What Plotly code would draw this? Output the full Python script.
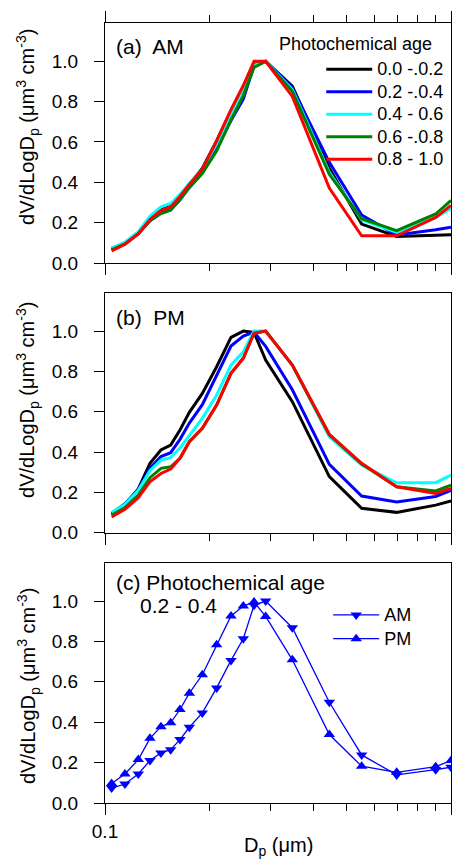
import plotly.graph_objects as go

# particle diameter bins (um)
dp = [0.1045, 0.1142, 0.1248, 0.1349, 0.1451, 0.1548, 0.1647, 0.1753, 0.1911, 0.2102,
      0.2313, 0.2510, 0.2696, 0.2913, 0.3479, 0.4450, 0.5518, 0.6966, 0.9031, 1.0]

age_labels = ["0.0 -.0.2", "0.2 -.0.4", "0.4 - 0.6", "0.6 -.0.8", "0.8 - 1.0"]
age_colors = ["#000000", "#0000ff", "#00ffff", "#008000", "#ff0000"]

# (a) AM, normalised dV/dlogDp
am_00_02 = [0.065, 0.097, 0.148, 0.22, 0.265, 0.28, 0.33, 0.39, 0.47, 0.605,
            0.755, 0.87, 0.985, 1.0, 0.877, 0.47, 0.193, 0.132, 0.14, 0.14]
am_02_04 = [0.074, 0.094, 0.144, 0.21, 0.248, 0.264, 0.314, 0.375, 0.446, 0.570,
            0.706, 0.813, 0.979, 1.0, 0.868, 0.499, 0.238, 0.139, 0.165, 0.177]
am_04_06 = [0.072, 0.103, 0.155, 0.232, 0.278, 0.295, 0.34, 0.395, 0.465, 0.59,
            0.74, 0.86, 0.98, 1.0, 0.86, 0.45, 0.215, 0.152, 0.226, 0.27]
am_06_08 = [0.065, 0.095, 0.145, 0.21, 0.245, 0.262, 0.315, 0.375, 0.445, 0.555,
            0.71, 0.83, 0.97, 1.0, 0.851, 0.44, 0.22, 0.16, 0.243, 0.31]
am_08_10 = [0.06, 0.093, 0.145, 0.215, 0.26, 0.278, 0.33, 0.39, 0.465, 0.605,
            0.76, 0.88, 1.0, 1.0, 0.826, 0.372, 0.135, 0.135, 0.226, 0.286]

# (b) PM
pm_00_02 = [0.09, 0.134, 0.217, 0.344, 0.41, 0.435, 0.509, 0.597, 0.691, 0.823,
            0.969, 1.0, 0.993, 0.856, 0.65, 0.278, 0.121, 0.101, 0.137, 0.157]
pm_02_04 = [0.097, 0.144, 0.215, 0.32, 0.378, 0.397, 0.463, 0.544, 0.635, 0.784,
            0.926, 0.975, 0.995, 0.924, 0.709, 0.339, 0.182, 0.152, 0.18, 0.21]
pm_04_06 = [0.10, 0.141, 0.21, 0.308, 0.36, 0.372, 0.42, 0.484, 0.567, 0.683,
            0.831, 0.897, 1.0, 1.0, 0.831, 0.476, 0.336, 0.248, 0.248, 0.286]
pm_06_08 = [0.088, 0.124, 0.187, 0.273, 0.319, 0.327, 0.369, 0.451, 0.518, 0.633,
            0.79, 0.865, 0.989, 1.0, 0.831, 0.485, 0.34, 0.228, 0.207, 0.236]
pm_08_10 = [0.078, 0.116, 0.174, 0.253, 0.294, 0.316, 0.369, 0.451, 0.518, 0.633,
            0.79, 0.865, 0.989, 1.0, 0.831, 0.488, 0.344, 0.228, 0.195, 0.22]

am_series = [am_00_02, am_02_04, am_04_06, am_06_08, am_08_10]
pm_series = [pm_00_02, pm_02_04, pm_04_06, pm_06_08, pm_08_10]

FONT = "Liberation Sans, Arial, sans-serif"


def big(txt):
    # legend row height follows legend font size, so enlarge the text only
    return '<span style="font-size:18px">' + txt + "</span>"


fig = go.Figure()

for lab, col, ys in zip(age_labels, age_colors, am_series):
    fig.add_trace(go.Scatter(x=dp, y=ys, mode="lines", name=big(lab),
                             line=dict(color=col, width=3),
                             xaxis="x", yaxis="y", legend="legend"))

for lab, col, ys in zip(age_labels, age_colors, pm_series):
    fig.add_trace(go.Scatter(x=dp, y=ys, mode="lines", name=lab, showlegend=False,
                             line=dict(color=col, width=3),
                             xaxis="x2", yaxis="y2"))

# (c) age 0.2 - 0.4, AM vs PM
fig.add_trace(go.Scatter(x=dp, y=am_02_04, mode="lines+markers", name=big("AM"),
                         line=dict(color="#0000ff", width=1.3),
                         marker=dict(symbol="triangle-down", size=10, color="#0000ff"),
                         xaxis="x3", yaxis="y3", legend="legend2"))
fig.add_trace(go.Scatter(x=dp, y=pm_02_04, mode="lines+markers", name=big("PM"),
                         line=dict(color="#0000ff", width=1.3),
                         marker=dict(symbol="triangle-up", size=10, color="#0000ff"),
                         xaxis="x3", yaxis="y3", legend="legend2"))

minor_vals = [0.2, 0.3, 0.4, 0.5, 0.6, 0.7, 0.8, 0.9]


def x_axis(anchor, labels, mirror):
    return dict(type="log", range=[-1, 0], anchor=anchor, domain=[0, 1],
                automargin=False,
                tickvals=[0.1, 1], ticktext=["0.1", "1"], ticks="outside",
                ticklen=11, tickwidth=1, tickcolor="black",
                showline=True, linecolor="black", linewidth=1, mirror=mirror,
                showgrid=False, zeroline=False, showticklabels=labels,
                ticklabelstandoff=0,
                tickfont=dict(family=FONT, size=19, color="black"),
                minor=dict(tickvals=minor_vals, ticks="outside", ticklen=7,
                           tickcolor="black", tickwidth=1, showgrid=False))


def y_axis(anchor, domain):
    return dict(range=[0, 1.19], anchor=anchor, domain=domain, automargin=False,
                tickvals=[0, 0.2, 0.4, 0.6, 0.8, 1.0], tickformat=".1f",
                ticks="outside", ticklen=10, tickwidth=1, tickcolor="black",
                showline=True, linecolor="black", linewidth=1, mirror=True,
                showgrid=False, zeroline=False, ticklabelstandoff=12,
                tickfont=dict(family=FONT, size=19, color="black"))


ytitle = "dV/dLogD<sub>p</sub> (\u03bcm<sup>3</sup> cm<sup>-3</sup>)"

annotations = []
for ypos in [0.8667, 0.5167, 0.15]:
    annotations.append(dict(text=ytitle, x=0, xref="paper", xshift=-77,
                            y=ypos, yref="paper", xanchor="center", yanchor="middle",
                            textangle=-90, showarrow=False,
                            font=dict(family=FONT, size=20, color="black")))
panel_txt = [("(a)\u00a0 AM", 0.026, 0.9705), ("(b)\u00a0 PM", 0.026, 0.6218),
             ("(c) Photochemical age", 0.026, 0.2821), ("0.2 - 0.4", 0.0954, 0.2526)]
for txt, xp, yp in panel_txt:
    annotations.append(dict(text=txt, x=xp, y=yp, xref="paper", yref="paper",
                            xanchor="left", yanchor="middle", showarrow=False,
                            font=dict(family=FONT, size=21, color="black")))
annotations.append(dict(text="Photochemical age", x=0.497, y=0.9731, xref="paper",
                        yref="paper", xanchor="left", yanchor="middle", showarrow=False,
                        font=dict(family=FONT, size=18, color="black")))
annotations.append(dict(text="D<sub>p</sub> (\u03bcm)", x=0.5, y=-0.0564, xref="paper",
                        yref="paper", xanchor="center", yanchor="middle", showarrow=False,
                        font=dict(family=FONT, size=20, color="black")))

fig.update_layout(
    width=452, height=865,
    margin=dict(l=105, r=1, t=23, b=62, autoexpand=False),
    paper_bgcolor="white", plot_bgcolor="white",
    xaxis=x_axis("y", False, "ticks"),
    xaxis2=x_axis("y2", False, True),
    xaxis3=x_axis("y3", True, True),
    yaxis=y_axis("x", [0.6923, 1.0]),
    yaxis2=y_axis("x2", [0.3465, 0.6542]),
    yaxis3=y_axis("x3", [0.0, 0.3081]),
    legend=dict(x=0.625, y=0.9615, xanchor="left", yanchor="top",
                bgcolor="rgba(0,0,0,0)", tracegroupgap=0, itemwidth=46,
                font=dict(family=FONT, size=15, color="black")),
    legend2=dict(x=0.645, y=0.2628, xanchor="left", yanchor="top",
                 bgcolor="rgba(0,0,0,0)", tracegroupgap=0, itemwidth=46,
                 font=dict(family=FONT, size=16, color="black")),
    annotations=annotations,
)

# drop the browser's default 8px body margin so the figure sits at the page corner
fig.write_html("out.html", config={"displayModeBar": False},
               post_script="document.body.style.margin='0';")
